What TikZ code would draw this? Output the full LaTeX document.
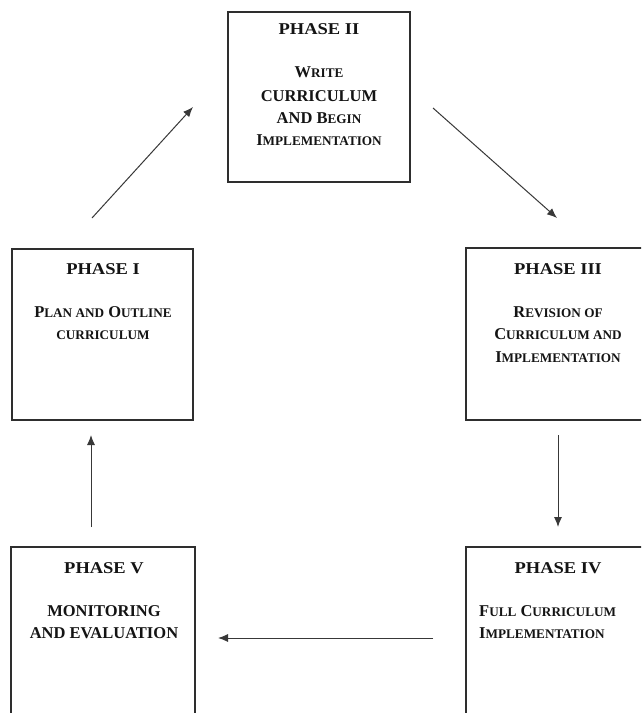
\documentclass[tikz,border=0pt]{standalone}
\usepackage{fontspec}
\setmainfont{Liberation Serif}
\newfontfamily\titlefam[FakeStretch=1.12]{Liberation Serif}
\usetikzlibrary{arrows.meta}
\newcommand\smc[1]{{\fontsize{13.2}{13.2}\selectfont #1}}
\begin{document}
\begin{tikzpicture}[x=1pt,y=-1pt,
  box/.style={draw=black!82, line width=1.2pt, inner sep=0pt, fill=none},
  ttl/.style={anchor=base, inner sep=0pt, font=\titlefam\bfseries\fontsize{16.5}{16.5}\selectfont, text=black!92},
  txt/.style={anchor=base, inner sep=0pt, font=\bfseries\fontsize{16.5}{16.5}\selectfont, text=black!92},
  txtl/.style={txt, anchor=base west},
  arr/.style={draw=black!78, line width=1pt, -{Latex[length=10pt,width=8pt]}}]
\useasboundingbox (0,0) rectangle (641,713);
\fill[white] (0,0) rectangle (641,713);
\clip (0,0) rectangle (641,713);

% boxes
\node[box, minimum width=182pt, minimum height=170pt] (p2) at (319,97) {};
\node[box, minimum width=181pt, minimum height=171pt] (p1) at (102.5,334.5) {};
\node[box, minimum width=184pt, minimum height=172pt] (p3) at (558,334) {};
\node[box, minimum width=184pt, minimum height=173pt] (p4) at (558,633.5) {};
\node[box, minimum width=184pt, minimum height=173pt] (p5) at (103,633.5) {};

% Phase II text
\node[ttl] (t2) at (319,34) {PHASE II};
\node[txt] (b2a) at (319,77) {W\smc{RITE}};
\node[txt] (b2b) at (319,101) {CURRICULUM};
\node[txt] (b2c) at (319,123) {AND B\smc{EGIN}};
\node[txt] (b2d) at (319,145) {I\smc{MPLEMENTATION}};

% Phase I text
\node[ttl] (t1) at (103,274) {PHASE I};
\node[txt] (b1a) at (103,317) {P\smc{LAN AND} O\smc{UTLINE}};
\node[txt] (b1b) at (103,339) {\smc{CURRICULUM}};

% Phase III text
\node[ttl] (t3) at (558,274) {PHASE III};
\node[txt] (b3a) at (558,317) {R\smc{EVISION OF}};
\node[txt] (b3b) at (558,339) {C\smc{URRICULUM AND}};
\node[txt] (b3c) at (558,362) {I\smc{MPLEMENTATION}};

% Phase IV text
\node[ttl] (t4) at (558,573) {PHASE IV};
\node[txtl] (b4a) at (479,616) {F\smc{ULL} C\smc{URRICULUM}};
\node[txtl] (b4b) at (479,638) {I\smc{MPLEMENTATION}};

% Phase V text
\node[ttl] (t5) at (104,573) {PHASE V};
\node[txt] (b5a) at (104,616) {MONITORING};
\node[txt] (b5b) at (104,638) {AND EVALUATION};

% arrows
\coordinate (a12s) at (92,218);  \coordinate (a12e) at (193,107);
\coordinate (a23s) at (433,108); \coordinate (a23e) at (557,218);
\coordinate (a34s) at (558,435); \coordinate (a34e) at (558,527);
\coordinate (a45s) at (433,638); \coordinate (a45e) at (218,638);
\coordinate (a51s) at (91,527);  \coordinate (a51e) at (91,435);
\draw[arr] (a12s) -- (a12e);
\draw[arr] (a23s) -- (a23e);
\draw[arr] (a34s) -- (a34e);
\draw[arr] (a45s) -- (a45e);
\draw[arr] (a51s) -- (a51e);
\end{tikzpicture}
\end{document}
